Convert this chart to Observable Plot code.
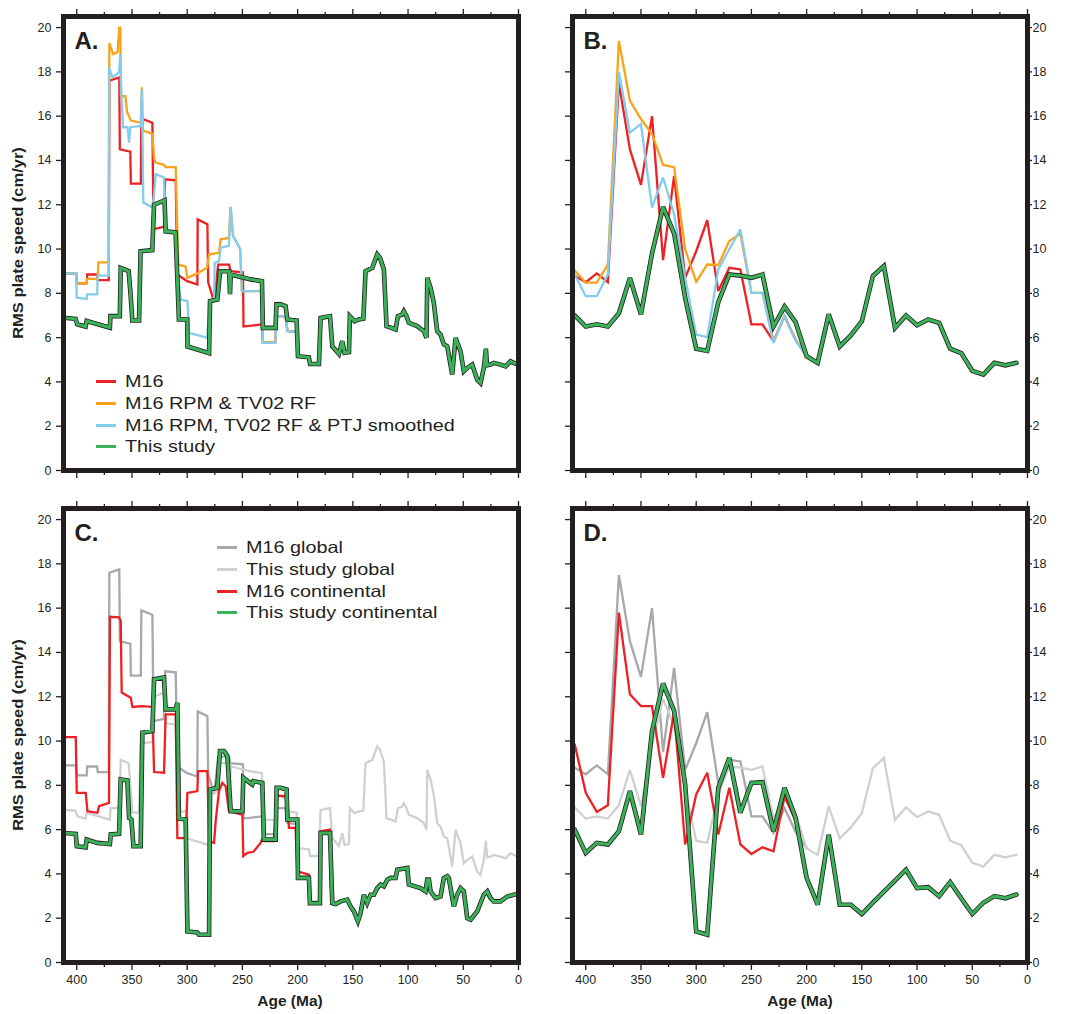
<!DOCTYPE html>
<html><head><meta charset="utf-8">
<script src="https://cdn.jsdelivr.net/npm/d3@7"></script>
<script src="https://cdn.jsdelivr.net/npm/@observablehq/plot@0.6"></script>
<style>
body{margin:0;background:#fff;}
#fig{position:relative;width:1067px;height:1014px;font-family:"Liberation Sans",Arial,Helvetica,sans-serif;color:#231f20;overflow:hidden;}
.pan{position:absolute;}
.ylab,.xlab{position:absolute;font-weight:bold;white-space:nowrap;}
.xlab{font-size:15.5px;transform:translate(-50%,-50%);}
.ylab{font-size:16.5px;transform:translate(-50%,-50%) rotate(-90deg) scaleY(0.9);}
.lg{position:absolute;font-size:16.5px;white-space:nowrap;height:20px;}
.lg .sw{position:absolute;left:0;top:9px;height:3px;}
.lg .tx{position:absolute;top:0;line-height:20px;transform-origin:0 50%;transform:scaleX(1.2);}
</style></head><body><div id="fig"></div>
<script>
// ---------------- DATA ----------------
// Panel A (1-Myr resolution): [age Ma, RMS speed cm/yr]
const m16 = [[412,8.9],[400.5,8.9],[400,8.45],[391,8.45],[390.5,8.85],[381.5,8.85],[381,8.6],[371,8.6],[370.5,17.6],[361.5,17.75],[361,14.5],[351.5,14.4],[351,12.95],[342,12.95],[341.5,15.9],[331.5,15.7],[330.5,10.9],[321,11.0],[320,13.15],[310.4,13.1],[309,8.85],[300,8.55],[290.8,8.4],[290.5,11.34],[281.7,11.12],[281,8.5],[275.5,7.6],[272,9.3],[262,9.3],[261,9.0],[249.5,8.95],[249,6.5],[232.3,6.6],[231.5,5.8],[220,5.8],[219.2,6.97],[210.9,6.97],[209.3,6.3],[200.5,6.25],[199.7,5.16]];
const m16RpmTv02 = [[412,8.9],[400.5,8.9],[400,8.45],[391,8.45],[390.5,8.65],[381,8.65],[380.5,9.4],[371,9.4],[370.5,19.3],[367,18.8],[363,18.9],[361.5,20.0],[360.5,20.0],[360,16.9],[356,16.9],[354.5,16.2],[351,15.8],[342,15.7],[341,17.3],[340,15.35],[331.5,15.2],[330,14.1],[328.5,13.9],[321,13.8],[319.5,13.7],[310.4,13.7],[309.5,11.9],[308,9.3],[301.4,9.2],[299.8,8.7],[291,8.9],[282,9.15],[280.2,9.76],[271.2,9.83],[269.7,10.44],[262.2,10.5],[260.8,11.9],[258.5,10.6],[252,10.0],[250.5,8.1],[232.3,8.1],[231.5,5.8],[220,5.8],[219.2,6.97],[210.9,6.97],[209.3,6.3],[200.5,6.25],[199.7,5.16]];
const m16RpmTv02Ptj = [[412,8.9],[400.5,8.9],[400,7.8],[391,7.75],[390.5,7.95],[381.5,7.95],[381,8.8],[371,8.8],[370.8,18.2],[367.7,17.75],[361.7,17.98],[360.5,18.8],[359.5,16.9],[358,15.5],[354,15.5],[352.6,14.8],[351.5,15.5],[342,15.56],[341,17.2],[339.7,12.1],[331.5,11.87],[330,12.47],[328.5,13.38],[321,13.23],[319.5,10.8],[310.4,10.75],[309,9.0],[305.9,7.72],[299.8,7.65],[298.4,6.21],[281.7,5.99],[280.2,7.57],[275.7,7.65],[275.1,9.38],[271.2,9.45],[269.7,10.06],[262.2,10.14],[260.6,11.9],[258.5,10.6],[252,10.0],[250.5,8.1],[232.3,8.1],[231.5,5.76],[220,5.76],[219.2,6.97],[210.9,6.97],[209.3,6.3],[200.5,6.25],[199.7,5.16]];
const thisStudy = [[412,6.9],[401,6.85],[399.5,6.6],[392,6.5],[391,6.75],[384,6.65],[370,6.45],[369.5,6.97],[361,6.97],[360.2,9.15],[353,9.0],[351.2,7.9],[349.7,6.77],[343.6,6.77],[342.2,9.9],[331.6,9.95],[330,12.0],[320.5,12.2],[319.5,10.8],[310.5,10.75],[307.5,6.82],[300,6.82],[299.7,5.6],[280.2,5.3],[279.3,7.65],[272.7,7.72],[270.2,9.0],[262,9.0],[261.2,7.96],[260.6,8.85],[242.5,8.63],[232.3,8.55],[231.5,6.44],[220,6.44],[219.2,7.5],[215.4,7.5],[210.9,7.42],[209.3,6.82],[200.9,6.77],[199.7,5.16],[189.8,5.11],[188.8,4.81],[180.7,4.81],[179.2,6.89],[170.7,6.97],[168.6,5.61],[162.6,5.26],[159.6,5.84],[157.5,5.31],[153.5,5.35],[152.7,6.97],[148.4,6.74],[144.5,6.82],[140.5,6.86],[138.5,9.0],[132.4,9.15],[127.9,9.76],[125.5,9.61],[121.9,9.08],[119.5,6.52],[111.3,6.37],[109.2,6.97],[105.3,7.04],[103.8,7.19],[101.4,6.97],[99.3,6.67],[91.7,6.52],[85.7,6.29],[83.3,5.99],[82.6,8.7],[79.6,8.25],[76.7,7.57],[73.6,6.29],[70.6,6.14],[67.6,5.69],[64.5,5.61],[60,4.33],[57,5.99],[52.5,5.38],[49.5,4.48],[46.4,4.63],[41.9,4.78],[37.4,4.1],[34.4,3.95],[31.4,4.63],[29.5,5.5],[28.5,4.75],[25.3,4.78],[22.3,4.86],[16.3,4.78],[11.8,4.7],[7.2,4.93],[4.3,4.86],[0.5,4.78]];

// Panel C (continental, 1-Myr resolution)
const m16Cont = [[412,10.18],[400.9,10.18],[400,7.66],[391.9,7.66],[390.3,6.83],[381.3,6.76],[379.8,7.06],[370.8,7.21],[369.9,15.61],[361.7,15.58],[360.2,15.43],[359.3,12.19],[351.1,11.96],[349.6,11.54],[340.6,11.58],[331.5,11.54],[330,8.6],[321,8.57],[319.5,11.2],[310.4,11.2],[308.9,5.62],[301.4,5.62],[299.8,7.66],[290.8,7.74],[290.2,8.64],[281.7,8.64],[280.2,5.48],[275.7,5.4],[274.2,6.38],[271.2,7.74],[268.2,8.11],[265.2,7.96],[262.2,6.83],[250,6.68],[249.2,4.8],[245.6,4.95],[240,5.0],[233.5,5.4],[230.5,5.78],[229.5,5.48],[221.5,5.48],[219,7.54],[209.3,7.5],[207.9,6.08],[201.8,6.08],[200.3,4.12],[189.8,3.97],[188.9,2.68],[179.8,2.68],[179.2,5.93],[170.8,6.0],[169.5,2.68]];
const thisStudyCont = [[412,5.85],[400.9,5.81],[400,5.25],[391.9,5.2],[391,5.55],[381.3,5.4],[370,5.35],[369.2,5.78],[361.7,5.81],[360.2,8.27],[354.2,8.22],[352.6,6.53],[350.5,6.46],[348.7,5.25],[342.1,5.25],[340.6,10.38],[331.5,10.45],[330,12.79],[321,12.87],[319.5,11.43],[310.4,11.43],[308.9,11.73],[307.5,6.5],[301.4,6.46],[299.8,1.4],[290.8,1.36],[289.3,1.25],[280.2,1.25],[279.3,7.81],[272.7,7.89],[270.3,9.55],[266.7,9.55],[263.6,9.32],[260.6,6.83],[250,6.83],[249.2,8.34],[241.1,8.04],[240,8.19],[232,8.11],[230.5,5.55],[219.9,5.55],[219,7.89],[215.4,7.89],[210,7.81],[209.3,6.46],[200.3,6.46],[199.7,3.82],[189.8,3.82],[188.9,2.68],[179.8,2.68],[179.2,5.85],[170.7,5.85],[168.6,2.68],[165.6,2.64],[161.1,2.76],[155,2.84],[152,2.53],[149,2.31],[145.4,1.86],[143,2.23],[140,3.06],[137,2.68],[133.9,3.06],[130.9,3.06],[127.9,3.36],[124.9,3.52],[121.9,3.44],[118.8,3.74],[115.8,3.82],[111.3,3.82],[109.8,4.19],[100.7,4.27],[99.3,3.52],[88.7,3.36],[84.2,3.21],[82.6,3.74],[81.1,3.74],[79.6,3.21],[75.1,2.91],[70.6,2.98],[67.6,3.82],[64.5,3.9],[63.1,3.82],[60,2.91],[58.5,2.53],[55.5,3.06],[52.5,3.36],[49.5,3.21],[46.4,2.0],[43.4,1.93],[37.4,2.31],[31.4,3.06],[28.3,3.21],[25.3,2.91],[22.4,2.76],[16.3,2.76],[10.2,2.98],[4.3,3.06],[0.5,3.09]];

// Panels B and D (10-Myr sampling)
const agesB = [410,400,390,380,370,360,350,340,330,320,310,300,290,280,270,260,250,240,230,220,210,200,190,180,170,160,150,140,130,120,110,100,90,80,70,60,50,40,30,20,10];
const agesB_m16 = [410,400,390,380,370,360,350,340,330,320,310,300,290,280,270,260,250,240,230,220,210,200];
const m16_B = [8.8,8.5,8.9,8.5,17.5,14.5,12.9,16.0,9.5,13.3,8.7,9.9,11.3,8.1,9.15,9.08,6.6,6.6,5.84,6.97,5.9,5.16];
const m16RpmTv02_B = [9.03,8.48,8.48,9.3,19.4,16.7,15.87,15.19,13.8,13.7,9.99,8.52,9.3,9.28,10.36,10.69,8.02,8.02,5.84,6.97,5.9,5.16];
const m16RpmTv02Ptj_B = [8.85,7.87,7.87,8.85,17.98,15.26,15.64,11.87,13.23,11.57,8.7,6.14,6.02,9.08,9.99,10.89,8.02,8.02,5.76,6.97,5.86,5.16];
const thisStudy_B = [7.0,6.5,6.6,6.5,7.1,8.7,7.05,9.8,11.9,10.7,7.8,5.5,5.4,7.6,8.85,8.8,8.7,8.85,6.5,7.4,6.7,5.16,4.86,7.05,5.6,6.1,6.74,8.78,9.23,6.44,7.0,6.56,6.82,6.67,5.5,5.3,4.5,4.33,4.86,4.75,4.86];
const m16Cont_D = [9.85,7.66,6.8,7.1,15.8,12.11,11.58,11.58,8.34,11.3,5.33,7.59,8.57,5.78,7.89,5.33,4.9,5.2,5.02,7.51,6.4,3.9];
const thisStudyCont_D = [6.0,4.95,5.4,5.33,5.93,7.74,5.78,10.45,12.6,11.36,8.04,1.4,1.25,7.89,9.24,6.76,8.11,8.14,5.93,7.89,6.53,3.82,2.61,5.78,2.61,2.61,2.19,2.7,3.2,3.7,4.19,3.36,3.4,2.99,3.63,2.9,2.19,2.7,3.0,2.9,3.07];

const yTicks = [0,2,4,6,8,10,12,14,16,18,20];
const xMajor = [400,350,300,250,200,150,100,50,0];
const xMinor = [375,325,275,225,175,125,75,25];

const C = {red:"#ed2024", orange:"#f8a31b", blue:"#84ccec", green:"#3bb25a", dark:"#231f20", gray:"#a6a8ab", lgray:"#cfd0d2"};

const legendA = [["M16",C.red],["M16 RPM & TV02 RF",C.orange],["M16 RPM, TV02 RF & PTJ smoothed",C.blue],["This study",C.green]];
const legendC = [["M16 global",C.gray],["This study global",C.lgray],["M16 continental",C.red],["This study continental",C.green]];

// ---------------- HELPERS ----------------
const pairs = arr => arr.map(([age, v]) => ({age, v}));
const zip = (ages, vals) => ages.map((age, i) => ({age, v: vals[i]}));

function panel({w, h, mL, mR, mT, mB, col, xLabels, letter, series}) {
  const marks = [];
  for (const s of series) {
    if (s.outline) marks.push(Plot.line(s.data, {x:"age", y:"v", stroke:C.dark, strokeWidth:4.6, strokeLinejoin:"miter", strokeMiterlimit:3}));
    marks.push(Plot.line(s.data, {x:"age", y:"v", stroke:s.color, strokeWidth:s.outline ? 3 : 2.3, strokeLinejoin:"miter", strokeMiterlimit:3}));
  }
  const blank = () => "";
  const tk = {strokeWidth:1.3, label:null, fontSize:12.5};
  marks.push(Plot.axisY({...tk, anchor:"left", ticks:yTicks, tickSize:7, tickPadding:5, tickFormat: col === 0 ? d => String(d) : blank}));
  if (col === 1) marks.push(Plot.axisY({...tk, anchor:"right", ticks:yTicks, tickSize:4, tickPadding:1, tickFormat: d => String(d)}));
  marks.push(Plot.axisX({...tk, anchor:"top", ticks:xMajor, tickSize:8, tickFormat:blank}));
  marks.push(Plot.axisX({...tk, anchor:"top", ticks:xMinor, tickSize:5, tickFormat:blank}));
  marks.push(Plot.axisX({...tk, anchor:"bottom", ticks:xMajor, tickSize:8, tickPadding:5, tickFormat: xLabels ? d => String(d) : blank}));
  marks.push(Plot.axisX({...tk, anchor:"bottom", ticks:xMinor, tickSize:5, tickFormat:blank}));
  marks.push(Plot.frame({stroke:C.dark, strokeWidth:5}));
  marks.push(Plot.text([letter], {text:d => d, frameAnchor:"top-left", dx:11, dy:15, fontSize:24, fontWeight:"bold", textAnchor:"start", lineAnchor:"top", fill:C.dark}));
  return Plot.plot({
    width:w, height:h, marginLeft:mL, marginRight:mR, marginTop:mT, marginBottom:mB,
    x:{domain:[412,0]}, y:{domain:[0,20.5]},
    style:{fontFamily:'"Liberation Sans", Arial, Helvetica, sans-serif', color:C.dark, background:"#fff", overflow:"visible"},
    marks
  });
}

const fig = document.getElementById("fig");
function place(el, left, top) { el.classList.add("pan"); el.style.left = left + "px"; el.style.top = top + "px"; fig.appendChild(el); }

const seriesA = [
  {data:pairs(m16), color:C.red},
  {data:pairs(m16RpmTv02), color:C.orange},
  {data:pairs(m16RpmTv02Ptj), color:C.blue},
  {data:pairs(thisStudy), color:C.green, outline:true}
];
const seriesB = [
  {data:zip(agesB_m16, m16_B), color:C.red},
  {data:zip(agesB_m16, m16RpmTv02_B), color:C.orange},
  {data:zip(agesB_m16, m16RpmTv02Ptj_B), color:C.blue},
  {data:zip(agesB, thisStudy_B), color:C.green, outline:true}
];
const seriesC = [
  {data:pairs(m16), color:C.gray},
  {data:pairs(thisStudy), color:C.lgray},
  {data:pairs(m16Cont), color:C.red},
  {data:pairs(thisStudyCont), color:C.green, outline:true}
];
const seriesD = [
  {data:zip(agesB_m16, m16_B), color:C.gray},
  {data:zip(agesB, thisStudy_B), color:C.lgray},
  {data:zip(agesB_m16, m16Cont_D), color:C.red},
  {data:zip(agesB, thisStudyCont_D), color:C.green, outline:true}
];

place(panel({w:533, h:493, mL:63, mR:15, mT:16, mB:23, col:0, xLabels:false, letter:"A.", series:seriesA}), 0, 0);
place(panel({w:534, h:493, mL:39, mR:40, mT:16, mB:23, col:1, xLabels:false, letter:"B.", series:seriesB}), 533, 0);
place(panel({w:533, h:521, mL:63, mR:15, mT:15, mB:52, col:0, xLabels:true, letter:"C.", series:seriesC}), 0, 493);
place(panel({w:534, h:521, mL:39, mR:40, mT:15, mB:52, col:1, xLabels:true, letter:"D.", series:seriesD}), 533, 493);

function label(cls, text, x, y) { const d = document.createElement("div"); d.className = cls; d.textContent = text; d.style.left = x + "px"; d.style.top = y + "px"; fig.appendChild(d); }
label("ylab", "RMS plate speed (cm/yr)", 18, 243);
label("ylab", "RMS plate speed (cm/yr)", 18, 735);
label("xlab", "Age (Ma)", 290, 1001);
label("xlab", "Age (Ma)", 800, 1001);

function legend(items, x, y0) {
  items.forEach(([name, color], i) => {
    const d = document.createElement("div"); d.className = "lg";
    d.style.left = x + "px"; d.style.top = (y0 + i * 21.8 - 10) + "px";
    const sw = document.createElement("div"); sw.className = "sw"; sw.style.width = "20px"; sw.style.background = color;
    const tx = document.createElement("div"); tx.className = "tx"; tx.style.left = "29px"; tx.textContent = name;
    d.appendChild(sw); d.appendChild(tx); fig.appendChild(d);
  });
}
legend(legendA, 96, 381);
legend(legendC, 217, 547);
</script>
</body></html>
